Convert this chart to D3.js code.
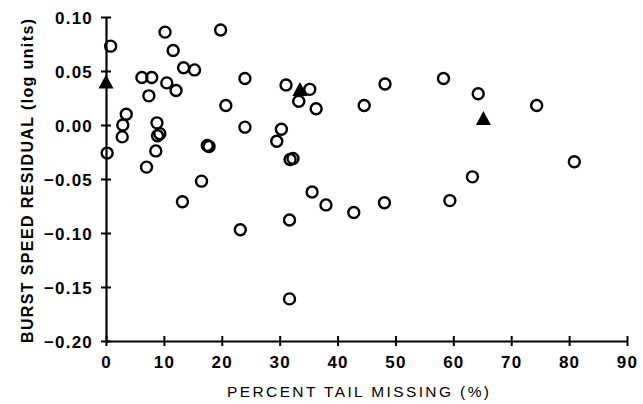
<!DOCTYPE html>
<html><head><meta charset="utf-8">
<script src="https://cdn.jsdelivr.net/npm/d3@7"></script>
<style>
body{margin:0;background:#fff;}
svg{display:block;}
text{font-family:"Liberation Sans",Arial,sans-serif;fill:#000;}
</style></head>
<body>
<svg id="c" width="643" height="404"></svg>
<script>
// Data: percent tail missing vs burst speed residual (log units)
const circleX = [0.8,10.2,19.8,11.6,13.4,15.3,6.2,7.9,10.5,12.1,7.4,24.0,31.1,20.7,3.5,2.9,2.8,8.8,9.3,8.9,24.0,30.3,29.5,17.5,17.8,0.2,8.6,7.0,31.8,32.3,16.5,13.2,23.2,31.7,31.7,35.2,33.3,36.3,44.6,48.2,58.3,64.3,74.4,35.6,38.0,42.8,48.1,59.4,63.3,80.9];
const circleY = [0.073,0.086,0.088,0.069,0.053,0.051,0.044,0.044,0.039,0.032,0.027,0.043,0.037,0.018,0.010,0.000,-0.011,0.002,-0.008,-0.010,-0.002,-0.004,-0.015,-0.019,-0.020,-0.026,-0.024,-0.039,-0.032,-0.031,-0.052,-0.071,-0.097,-0.088,-0.161,0.033,0.022,0.015,0.018,0.038,0.043,0.029,0.018,-0.062,-0.074,-0.081,-0.072,-0.070,-0.048,-0.034];
const triX = [0.0,33.5,65.2];
const triY = [0.039,0.032,0.005];
const xTicks = [0,10,20,30,40,50,60,70,80,90];
const yTicks = [0.10,0.05,0.00,-0.05,-0.10,-0.15,-0.20];
const xTitle = "PERCENT TAIL MISSING (%)";
const yTitle = "BURST SPEED RESIDUAL  (log units)";

const svg = d3.select("#c");
const x = d3.scaleLinear().domain([0,90]).range([106,627]);
const y = d3.scaleLinear().domain([-0.20,0.10]).range([341,17]);

const fmt = v => (v<0? "\u2212" : "") + Math.abs(v).toFixed(2);

// y axis
const gy = svg.append("g").attr("transform","translate(106,0)")
  .call(d3.axisLeft(y).tickValues(yTicks).tickFormat(fmt).tickSizeInner(5).tickSizeOuter(0).tickPadding(8));
gy.select(".domain").attr("stroke","#000").attr("stroke-width",2.2);
gy.selectAll(".tick line").attr("x1",-5).attr("x2",5).attr("stroke","#000").attr("stroke-width",2);
gy.selectAll(".tick text").attr("font-size",17).attr("font-weight","bold").attr("font-family","'Liberation Sans',Arial,sans-serif").attr("letter-spacing",1.2).attr("dy","0.36em");

// x axis
const gx = svg.append("g").attr("transform","translate(0,341)")
  .call(d3.axisBottom(x).tickValues(xTicks).tickFormat(d3.format("d")).tickSizeInner(5).tickSizeOuter(0).tickPadding(10));
gx.select(".domain").attr("stroke","#000").attr("stroke-width",2.2);
gx.selectAll(".tick line").attr("y1",-5).attr("y2",5).attr("stroke","#000").attr("stroke-width",2);
gx.selectAll(".tick text").attr("font-size",17).attr("font-weight","bold").attr("font-family","'Liberation Sans',Arial,sans-serif").attr("letter-spacing",1.2);

// titles
svg.append("text").attr("x",358).attr("y",397).attr("text-anchor","middle")
  .attr("font-size",15.5).attr("textLength",262).attr("lengthAdjust","spacing").text(xTitle);
svg.append("text").attr("transform","translate(33,181) rotate(-90)").attr("text-anchor","middle")
  .attr("font-size",16).attr("font-weight","bold").attr("textLength",324).attr("lengthAdjust","spacing").text(yTitle);

// circles
const pts = circleX.map((d,i)=>({x:d,y:circleY[i]}));
svg.append("g").selectAll("circle").data(pts).join("circle")
  .attr("cx",d=>x(d.x)).attr("cy",d=>y(d.y)).attr("r",5.5)
  .attr("fill","none").attr("stroke","#000").attr("stroke-width",2.4);

// triangles
const tris = triX.map((d,i)=>({x:d,y:triY[i]}));
svg.append("g").selectAll("path").data(tris).join("path")
  .attr("transform",d=>`translate(${x(d.x)},${y(d.y)})`)
  .attr("d","M0,-8.5L7.5,5.5L-7.5,5.5Z").attr("fill","#000");
</script>
</body></html>
